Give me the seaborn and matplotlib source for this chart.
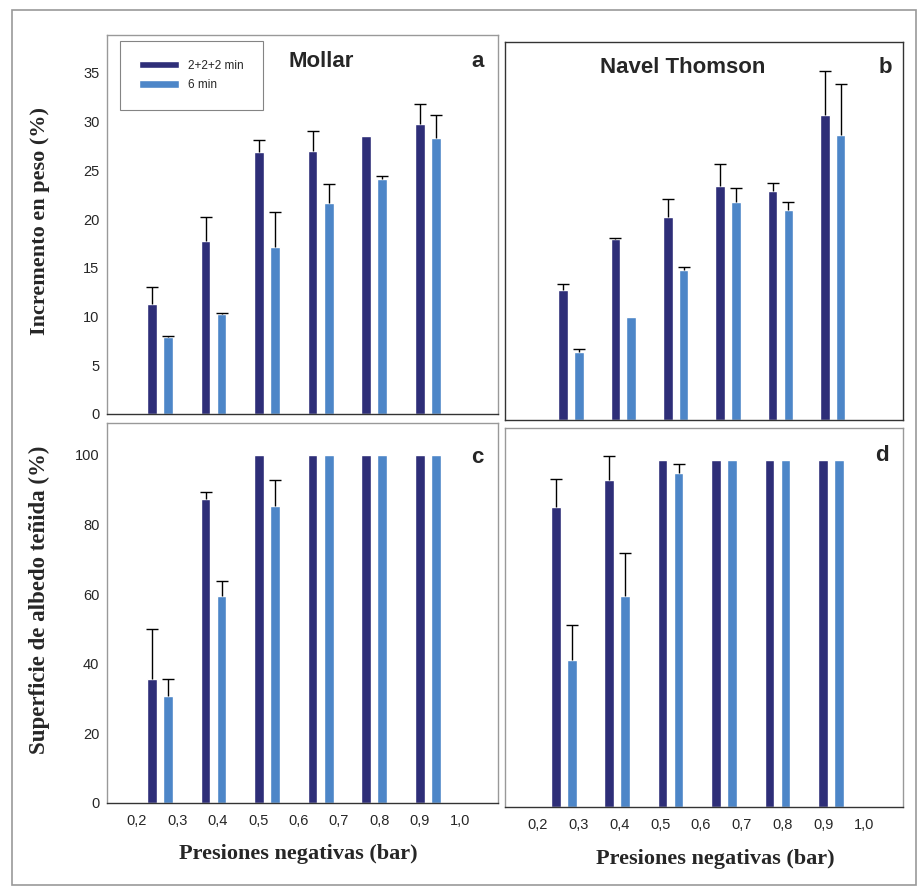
import matplotlib
matplotlib.use("Agg")
import matplotlib.pyplot as plt
from matplotlib.patches import Rectangle
import seaborn as sns
import numpy as np
import pandas as pd

# six pressure groups, two treatments
groups = ["g1", "g2", "g3", "g4", "g5", "g6"]
methods = ["2+2+2 min", "6 min"]
pressure_labels = ["0,2", "0,3", "0,4", "0,5", "0,6", "0,7", "0,8", "0,9", "1,0"]

# Mollar - weight increase (%)
mollar_peso_222 = [11.3, 17.8, 26.9, 27.0, 28.5, 29.8]
mollar_peso_222_err = [1.7, 2.4, 1.2, 2.0, 0.0, 2.0]
mollar_peso_6 = [7.9, 10.3, 17.1, 21.6, 24.1, 28.3]
mollar_peso_6_err = [0.1, 0.1, 3.6, 2.0, 0.3, 2.4]

# Navel Thomson - weight increase (%)
navel_peso_222 = [13.4, 18.6, 20.9, 24.1, 23.6, 31.4]
navel_peso_222_err = [0.6, 0.1, 1.8, 2.3, 0.8, 4.5]
navel_peso_6 = [7.0, 10.6, 15.4, 22.4, 21.6, 29.3]
navel_peso_6_err = [0.3, 0.0, 0.4, 1.5, 0.8, 5.3]

# Mollar - stained albedo surface (%)
mollar_sup_222 = [35.6, 87.3, 100, 100, 100, 100]
mollar_sup_222_err = [14.4, 2.0, 0, 0, 0, 0]
mollar_sup_6 = [30.6, 59.6, 85.4, 100, 100, 100]
mollar_sup_6_err = [5.1, 4.1, 7.3, 0, 0, 0]

# Navel Thomson - stained albedo surface (%)
navel_sup_222 = [86.4, 94.2, 100, 100, 100, 100]
navel_sup_222_err = [8.0, 6.8, 0, 0, 0, 0]
navel_sup_6 = [42.4, 60.7, 96.0, 100, 100, 100]
navel_sup_6_err = [10.1, 12.4, 2.8, 0, 0, 0]

dark_blue = "#2e2e78"
light_blue = "#4d86c8"
palette = {methods[0]: dark_blue, methods[1]: light_blue}


def make_df(v1, e1, v2, e2):
    return pd.DataFrame({
        "grupo": groups * 2,
        "metodo": [methods[0]] * 6 + [methods[1]] * 6,
        "valor": v1 + v2,
        "err": e1 + e2,
    })


def draw_panel(ax, df, ylim, yticks, xlim, show_legend=False):
    sns.barplot(data=df, x="grupo", y="valor", hue="metodo", palette=palette,
                width=0.6, gap=0.4, errorbar=None, saturation=1,
                legend=show_legend, ax=ax)
    # upper error bars only (hide the cap sitting on the bar top)
    for cont, m in zip(ax.containers, methods):
        errs = df.loc[df["metodo"] == m, "err"].values
        for bar, e in zip(cont, errs):
            if e > 0:
                _, caps, _ = ax.errorbar(bar.get_x() + bar.get_width() / 2, bar.get_height(),
                                         yerr=[[0], [e]], fmt="none", ecolor="black",
                                         elinewidth=1, capsize=4, capthick=1)
                caps[0].set_visible(False)
    ax.set_ylim(*ylim)
    ax.set_xlim(*xlim)
    ax.set_yticks(yticks)
    ax.set_xlabel("")
    ax.set_ylabel("")
    ax.tick_params(axis="y", direction="inout", length=4, width=0.8, color="#777777",
                   labelsize=10.5)
    ax.tick_params(axis="x", length=0, labelsize=10.5, pad=8)
    for s in ax.spines.values():
        s.set_visible(True)
        s.set_color("#999999")
        s.set_linewidth(1)
    ax.spines["bottom"].set_color("#333333")


sns.set_style("white")
plt.rcParams["font.family"] = ["Liberation Sans", "DejaVu Sans"]

fig = plt.figure(figsize=(9.21, 8.91), dpi=100)
fig.patches.append(Rectangle((12 / 921, 6 / 891), 904 / 921, 875 / 891,
                             transform=fig.transFigure, fill=False,
                             edgecolor="#999999", linewidth=1.2))

ax_a = fig.add_axes([0.1162, 0.5354, 0.4245, 0.4254])
ax_b = fig.add_axes([0.5483, 0.5286, 0.4321, 0.4242])
ax_c = fig.add_axes([0.1162, 0.0988, 0.4245, 0.4265])
ax_d = fig.add_axes([0.5483, 0.0943, 0.4321, 0.4254])

draw_panel(ax_a, make_df(mollar_peso_222, mollar_peso_222_err, mollar_peso_6, mollar_peso_6_err),
           (0, 38.9), np.arange(0, 36, 5), (-0.99, 6.31), show_legend=True)
draw_panel(ax_b, make_df(navel_peso_222, navel_peso_222_err, navel_peso_6, navel_peso_6_err),
           (0, 38.9), np.arange(0, 36, 5), (-1.26, 6.34))
draw_panel(ax_c, make_df(mollar_sup_222, mollar_sup_222_err, mollar_sup_6, mollar_sup_6_err),
           (0, 109.2), np.arange(0, 101, 20), (-0.99, 6.31))
draw_panel(ax_d, make_df(navel_sup_222, navel_sup_222_err, navel_sup_6, navel_sup_6_err),
           (0, 109.1), np.arange(0, 101, 20), (-1.10, 6.35))

for ax in (ax_a, ax_b):
    ax.set_xticks([])
for ax in (ax_b, ax_d):
    ax.set_yticklabels([])
ax_b.spines[:].set_color("#333333")

ax_c.set_xticks(np.linspace(-0.43, 5.60, 9), pressure_labels)
ax_d.set_xticks(np.linspace(-0.49, 5.63, 9), pressure_labels)

serif = ["Liberation Serif", "DejaVu Serif"]
ax_a.set_ylabel("Incremento en peso (%)", fontsize=16, fontweight="bold", family=serif)
ax_a.yaxis.set_label_coords(-0.146, 0.509)
ax_c.set_ylabel("Superficie de albedo teñida (%)", fontsize=16.5, fontweight="bold", family=serif)
ax_c.yaxis.set_label_coords(-0.146, 0.534)
for ax in (ax_c, ax_d):
    ax.set_xlabel("Presiones negativas (bar)", fontsize=16, fontweight="bold", family=serif)
ax_c.xaxis.set_label_coords(0.49, -0.108)
ax_d.xaxis.set_label_coords(0.529, -0.11)

ax_a.text(0.547, 0.929, "Mollar", transform=ax_a.transAxes, ha="center", va="center",
          fontsize=16, fontweight="bold")
ax_b.text(0.447, 0.934, "Navel Thomson", transform=ax_b.transAxes, ha="center", va="center",
          fontsize=16, fontweight="bold")
for ax, letter, x, y in ((ax_a, "a", 0.949, 0.929), (ax_b, "b", 0.955, 0.934),
                         (ax_c, "c", 0.946, 0.91), (ax_d, "d", 0.947, 0.926)):
    ax.text(x, y, letter, transform=ax.transAxes, ha="center", va="center",
            fontsize=16, fontweight="bold")

leg = ax_a.legend(loc="upper left", bbox_to_anchor=(0.033, 0.984), fontsize=8.5,
                  frameon=True, fancybox=False, edgecolor="#666666", borderpad=1.6,
                  handlelength=3.4, handleheight=0.6, labelspacing=0.6,
                  borderaxespad=0, title=None)
leg.get_frame().set_linewidth(0.8)

fig.savefig("out.png", dpi=100, facecolor="white")
